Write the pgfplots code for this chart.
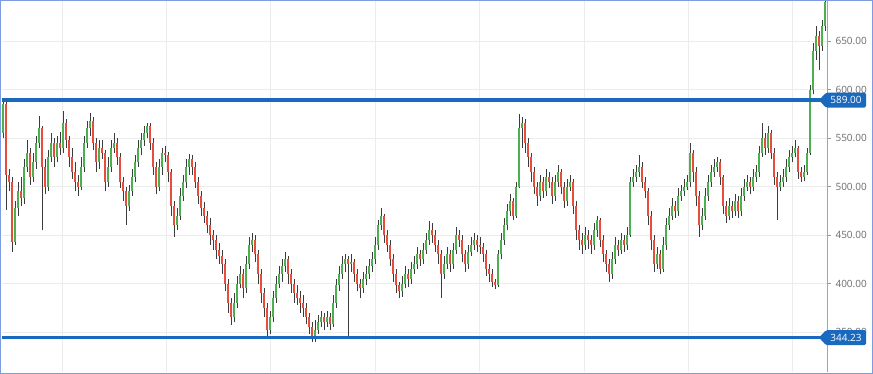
\documentclass[border=0pt]{standalone}
\usepackage{pgfplots}
\usepackage{pgfplotstable}
\pgfplotsset{compat=1.18}
\usepackage{fontspec}
\setmainfont{Open Sans}
\definecolor{upc}{RGB}{76,175,80}
\definecolor{dnc}{RGB}{232,76,61}
\definecolor{wickc}{RGB}{60,60,60}
\definecolor{lvl}{RGB}{25,105,190}
\definecolor{gridc}{RGB}{236,236,236}
\definecolor{framec}{RGB}{125,155,225}
\definecolor{labc}{RGB}{105,105,105}

\pgfplotstableread{
x o h l c
3 555 590 550 585
6 585 589 476 512
9 512 518 495 505
12 505 510 432 443
15 443 485 440 478
18 478 505 470 495
21 495 510 480 488
24 488 528 482 520
27 520 548 515 535
30 535 540 502 510
33 510 535 505 525
36 525 552 518 545
39 545 573 540 560
42 560 562 455 520
45 520 528 492 500
48 500 538 495 530
51 530 555 525 545
54 545 550 520 530
57 530 552 525 545
60 545 556 532 540
63 540 578 535 565
66 565 570 540 548
69 548 552 520 530
72 530 540 508 515
75 515 525 495 505
78 505 512 490 500
81 500 530 496 520
84 520 552 515 545
87 545 568 540 560
90 560 576 552 568
93 568 572 538 545
96 545 550 515 525
99 525 548 518 540
102 540 548 528 535
105 535 538 495 505
108 505 530 500 520
111 520 548 515 540
114 540 555 535 545
117 545 550 522 530
120 530 535 498 505
123 505 510 485 495
126 495 500 460 480
129 480 502 475 495
132 495 518 490 510
135 510 532 505 525
138 525 548 520 540
141 540 555 532 548
144 548 562 542 555
147 555 566 550 562
150 562 565 538 545
153 545 550 512 520
156 520 525 492 500
159 500 528 495 520
162 520 540 512 535
165 535 542 525 532
168 532 536 505 515
171 515 518 470 480
174 480 485 448 460
177 460 478 455 470
180 470 498 465 490
183 490 512 485 505
186 505 528 498 520
189 520 534 512 528
192 528 532 512 520
195 520 525 498 505
198 505 510 482 490
201 490 495 470 478
204 478 484 462 470
207 470 475 452 460
210 460 468 440 450
213 450 455 435 445
216 445 450 425 435
219 435 442 420 428
222 428 435 410 420
225 420 425 392 400
228 400 405 370 380
231 380 385 357 365
234 365 390 360 380
237 380 408 375 400
240 400 418 395 410
243 410 415 385 395
246 395 428 390 420
249 420 448 415 440
252 440 452 432 445
255 445 450 422 430
258 430 435 400 410
261 410 415 380 390
264 390 395 365 375
267 375 380 345 352
270 352 372 348 365
273 365 392 360 385
276 385 408 380 400
279 400 418 395 410
282 410 425 402 418
285 418 432 412 425
288 425 428 400 410
291 410 415 390 400
294 400 405 380 390
297 390 398 378 385
300 385 392 370 380
303 380 388 366 375
306 375 380 358 365
309 365 370 348 355
312 355 360 340 345
315 345 362 340 352
318 352 368 348 360
321 360 372 355 365
324 365 370 352 360
327 360 372 355 365
330 365 370 352 358
333 358 388 355 380
336 380 405 375 398
339 398 418 392 410
342 410 428 405 420
345 420 430 412 425
348 425 428 344 420
351 420 430 412 422
354 422 425 402 410
357 410 415 392 400
360 400 405 385 395
363 395 412 390 405
366 405 418 398 410
369 410 425 405 418
372 418 432 412 425
375 425 448 420 440
378 440 466 435 460
381 460 478 455 470
384 470 472 442 450
387 450 455 432 440
390 440 445 418 425
393 425 430 402 410
396 410 415 390 398
399 398 402 385 392
402 392 408 386 400
405 400 418 395 410
408 410 415 396 405
411 405 422 400 415
414 415 428 410 420
417 420 438 415 430
420 430 435 418 425
423 425 442 420 435
426 435 452 430 445
429 445 464 440 455
432 455 462 442 450
435 450 455 432 440
438 440 445 420 430
441 430 435 385 410
444 410 428 405 420
447 420 438 415 430
450 430 435 412 420
453 420 442 415 435
456 435 458 430 450
459 450 455 438 445
462 445 450 422 430
465 430 435 412 420
468 420 440 415 432
471 432 448 428 440
474 440 452 435 445
477 445 450 432 440
480 440 448 430 438
483 438 442 422 430
486 430 435 408 415
489 415 420 402 410
492 410 415 396 402
495 402 405 394 398
498 398 435 396 430
501 430 452 425 445
504 445 468 440 460
507 460 482 455 475
510 475 492 470 485
513 485 488 465 470
516 470 505 468 500
519 500 575 498 560
522 560 572 540 565
525 565 570 535 545
528 545 550 520 530
531 530 535 505 515
534 515 520 492 500
537 500 505 480 490
540 490 512 485 505
543 505 510 488 495
546 495 518 490 510
549 510 515 498 505
552 505 510 482 490
555 490 512 485 505
558 505 522 500 515
561 515 518 492 500
564 500 505 478 485
567 485 508 480 500
570 500 512 495 505
573 505 508 472 480
576 480 485 445 455
579 455 460 435 445
582 445 452 430 440
585 440 458 435 450
588 450 455 436 445
591 445 450 430 440
594 440 462 435 455
597 455 470 448 465
600 465 468 438 445
603 445 450 422 430
606 430 435 412 420
609 420 425 402 410
612 410 432 405 425
615 425 448 420 440
618 440 445 428 435
621 435 452 430 445
624 445 450 432 440
627 440 458 435 450
630 450 510 448 505
633 505 518 500 510
636 510 522 505 515
639 515 532 510 520
642 520 525 498 505
645 505 510 488 495
648 495 498 460 470
651 470 475 435 445
654 445 450 412 420
657 420 438 415 430
660 430 435 410 415
663 415 448 412 440
666 440 468 435 460
669 460 478 455 470
672 470 488 465 480
675 480 485 468 475
678 475 498 470 490
681 490 502 485 495
684 495 508 490 500
687 500 512 496 505
690 505 545 500 535
693 535 538 505 515
696 515 520 480 490
699 490 495 448 460
702 460 478 455 470
705 470 498 465 490
708 490 512 485 505
711 505 522 500 515
714 515 528 510 520
717 520 530 515 525
720 525 528 502 510
723 510 512 472 480
726 480 485 462 470
729 470 488 465 480
732 480 485 468 475
735 475 492 470 485
738 485 490 468 475
741 475 498 470 490
744 490 508 485 500
747 500 512 495 505
750 505 510 492 500
753 500 518 495 510
756 510 522 505 515
759 515 542 510 535
762 535 565 530 550
765 550 555 532 540
768 540 562 535 555
771 555 558 528 535
774 535 540 502 510
777 510 515 466 500
780 500 512 495 505
783 505 518 500 510
786 510 528 505 520
789 520 538 515 530
792 530 542 525 535
795 535 548 530 540
798 540 542 508 515
801 515 520 505 510
804 510 522 506 515
807 515 540 512 535
810 535 605 532 600
813 600 648 595 640
816 640 665 630 655
819 655 660 620 645
822 645 672 640 665
825 665 700 660 690
}\ohlc

\begin{document}
\begin{tikzpicture}
\begin{axis}[
  at={(0,0)}, anchor=south west,
  scale only axis, width=825pt, height=372pt,
  xmin=2, xmax=827, ymin=308.8, ymax=692.3,
  axis line style={draw=none},
  xtick={62,166,270,375,479,584,688,792},
  xticklabels={},
  xtick style={draw=none},
  ytick={350,400,...,650},
  ytick pos=right, yticklabel pos=right,
  tick align=outside, major tick length=4pt,
  ytick style={draw=labc!70, line width=0.6pt},
  grid=major,
  major grid style={draw=gridc, line width=0.9pt},
  yticklabel style={font=\fontsize{10}{12}\selectfont, text=labc, xshift=1pt,
    /pgf/number format/.cd, fixed, fixed zerofill, precision=2, assume math mode=true},
]
% wicks
\addplot[wickc, line width=0.9pt, forget plot,
  quiver={u=0, v=\thisrow{h}-\thisrow{l}}]
  table[x=x, y=l] {\ohlc};
% up bodies
\addplot[upc, line width=2.3pt, forget plot,
  quiver={u=0, v=\thisrow{c}-\thisrow{o}}]
  table[x=x, y expr={\thisrow{c}>\thisrow{o} ? \thisrow{o} : nan}] {\ohlc};
% down bodies
\addplot[dnc, line width=2.3pt, forget plot,
  quiver={u=0, v=\thisrow{o}-\thisrow{c}}]
  table[x=x, y expr={\thisrow{c}<\thisrow{o} ? \thisrow{c} : nan}] {\ohlc};
% level lines
\addplot[lvl, line width=3.4pt, forget plot] coordinates {(2,589) (827,589)};
\addplot[lvl, line width=3.4pt, forget plot] coordinates {(2,344.23) (827,344.23)};
\coordinate (br) at (rel axis cs:1,0);
\coordinate (tr) at (rel axis cs:1,1);
\coordinate (L1) at (axis cs:827,589);
\coordinate (L2) at (axis cs:827,344.23);
\end{axis}
\draw[labc!60, line width=0.8pt] (br) -- (tr);
\foreach \p/\t in {L1/589.00, L2/344.23}{
  \fill[lvl, rounded corners=1.5pt] (\p) ++(-8pt,0) -- ++(7pt,7.5pt) -- ++(40pt,0) -- ++(0,-15pt) -- ++(-40pt,0) -- cycle;
  \node[text=white, font=\fontsize{10}{12}\selectfont, inner sep=0pt] at ([xshift=19pt]\p) {\t};
}
\pgfresetboundingbox
\path[use as bounding box] (-2pt,-2pt) rectangle (871pt,372pt);
\draw[framec, line width=1pt] (-1.5pt,-1.5pt) rectangle (870.5pt,371.5pt);
\end{tikzpicture}
\end{document}
